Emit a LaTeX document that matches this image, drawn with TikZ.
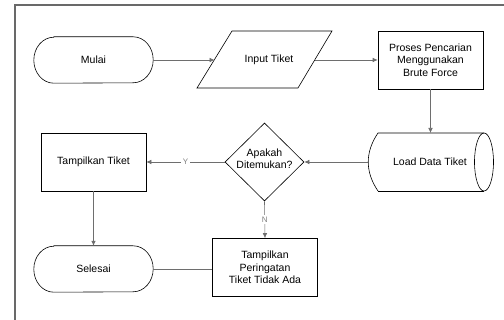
\documentclass[tikz,border=0pt]{standalone}
\usepackage{fontspec}
\setmainfont{Liberation Sans}
\usetikzlibrary{arrows.meta,shapes.geometric}
\definecolor{framegray}{RGB}{105,105,105}
\definecolor{conngray}{RGB}{110,110,110}
\begin{document}
\begin{tikzpicture}[x=1pt,y=-1pt,
  txt/.style={font=\fontsize{10.5}{12.5}\selectfont, align=center, inner sep=0},
  box/.style={txt, draw=black, line width=0.6pt, minimum width=105, minimum height=58},
  term/.style={txt, minimum width=119, minimum height=46},
  shapeline/.style={draw=black, line width=0.6pt},
  conn/.style={draw=conngray, line width=0.6pt, -{Latex[length=5pt,width=4.5pt]}},
  plain/.style={draw=conngray, line width=0.6pt},
  lbl/.style={font=\fontsize{8}{9}\selectfont, text=gray, fill=white, inner sep=1.5pt},
  frame/.style={draw=framegray, line width=1.4pt}
]
\useasboundingbox (0,0) rectangle (504,320);
\fill[white] (0,0) rectangle (504,320);
\draw[frame] (15,320) -- (15,5) -- (504,5);

% start
\node[term] (mulai) at (93.5,60) {Mulai};
\draw[shapeline] ([xshift=20]mulai.north west) -- ([xshift=-20]mulai.north east)
  arc[start angle=-90, end angle=90, x radius=20, y radius=23]
  -- ([xshift=20]mulai.south west)
  arc[start angle=90, end angle=270, x radius=20, y radius=23] -- cycle;

% input parallelogram
\draw[shapeline] (232,31) -- (332,31) -- (298,88) -- (197,88) -- cycle;
\node[txt] (input) at (269,60) {Input Tiket};
\coordinate (inW) at (214.5,60);
\coordinate (inE) at (315,60);

% process
\node[box] (proses) at (430.5,60) {Proses Pencarian\\Menggunakan\\Brute Force};

% load data (stored data)
\draw[shapeline] (378,191) .. controls (365,172) and (365,152) .. (378,133) -- (484,133);
\draw[shapeline] (378,191) -- (484,191);
\draw[shapeline] (484,162) ellipse [x radius=9.5, y radius=29];
\node[txt] (load) at (430,162) {Load Data Tiket};
\coordinate (loadN) at (430.5,133);
\coordinate (loadW) at (368.2,162);

% decision
\node[diamond, draw=black, line width=0.6pt, minimum width=79, minimum height=78, inner sep=0] (dec) at (264.5,162) {};
\node[txt] (dectext) at (264.5,158.5) {Apakah\\Ditemukan?};

% show ticket
\node[box] (tampil) at (93.5,162) {Tampilkan Tiket};

% warning
\node[box] (warn) at (265,267.5) {Tampilkan\\Peringatan\\Tiket Tidak Ada};

% end
\node[term] (selesai) at (93.5,269) {Selesai};
\draw[shapeline] ([xshift=20]selesai.north west) -- ([xshift=-20]selesai.north east)
  arc[start angle=-90, end angle=90, x radius=20, y radius=23]
  -- ([xshift=20]selesai.south west)
  arc[start angle=90, end angle=270, x radius=20, y radius=23] -- cycle;

% connectors
\draw[conn] (mulai.east) -- (inW);
\draw[conn] (inE) -- (proses.west);
\draw[conn] (proses.south) -- (loadN);
\draw[conn] (loadW) -- (dec.east);
\draw[conn] (dec.west) -- node[lbl] {Y} (tampil.east);
\draw[conn] (tampil.south) -- (selesai.north);
\draw[conn] (dec.south) -- node[lbl] {N} (warn.north);
\draw[plain] (warn.west |- selesai.east) -- (selesai.east);
\end{tikzpicture}
\end{document}
